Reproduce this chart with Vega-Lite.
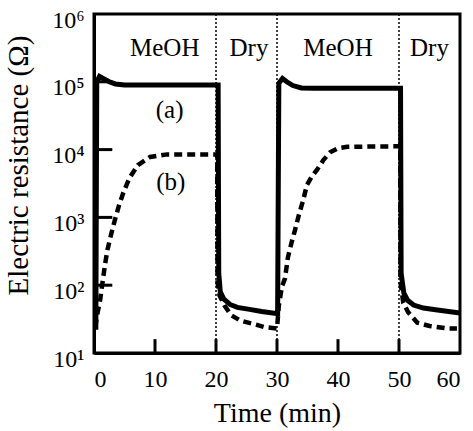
{
  "$schema": "https://vega.github.io/schema/vega-lite/v6.json",
  "width": 366,
  "height": 339,
  "autosize": "none",
  "padding": {"left": 94, "top": 14, "right": 13, "bottom": 78},
  "background": "white",
  "config": {
    "view": {"stroke": "black", "strokeWidth": 3},
    "axis": {
      "grid": false,
      "ticks": false,
      "domainColor": "black",
      "domainWidth": 3,
      "labelFont": "Liberation Serif",
      "labelFontSize": 24,
      "labelColor": "black",
      "titleFont": "Liberation Serif",
      "titleFontSize": 28,
      "titleFontWeight": "normal",
      "titleColor": "black"
    }
  },
  "datasets": {
    "curves": [
      {"s": "a", "i": 1, "t": 0.3, "r": 22},
      {"s": "a", "i": 2, "t": 0.45, "r": 100000},
      {"s": "a", "i": 3, "t": 0.9, "r": 120000},
      {"s": "a", "i": 4, "t": 1.5, "r": 112000},
      {"s": "a", "i": 5, "t": 2.5, "r": 100000},
      {"s": "a", "i": 6, "t": 3.5, "r": 93000},
      {"s": "a", "i": 7, "t": 5, "r": 90000},
      {"s": "a", "i": 8, "t": 20.35, "r": 90000},
      {"s": "a", "i": 9, "t": 20.45, "r": 150},
      {"s": "a", "i": 10, "t": 20.7, "r": 80},
      {"s": "a", "i": 11, "t": 21.3, "r": 62},
      {"s": "a", "i": 12, "t": 22.3, "r": 52},
      {"s": "a", "i": 13, "t": 23.5, "r": 47},
      {"s": "a", "i": 14, "t": 25.5, "r": 44},
      {"s": "a", "i": 15, "t": 27.5, "r": 41},
      {"s": "a", "i": 16, "t": 30.1, "r": 38},
      {"s": "a", "i": 17, "t": 30.3, "r": 95000},
      {"s": "a", "i": 18, "t": 30.9, "r": 112000},
      {"s": "a", "i": 19, "t": 31.6, "r": 100000},
      {"s": "a", "i": 20, "t": 32.6, "r": 88000},
      {"s": "a", "i": 21, "t": 34, "r": 81000},
      {"s": "a", "i": 22, "t": 36, "r": 80000},
      {"s": "a", "i": 23, "t": 50.25, "r": 80000},
      {"s": "a", "i": 24, "t": 50.35, "r": 150},
      {"s": "a", "i": 25, "t": 50.8, "r": 76},
      {"s": "a", "i": 26, "t": 51.4, "r": 60},
      {"s": "a", "i": 27, "t": 52.4, "r": 51},
      {"s": "a", "i": 28, "t": 54, "r": 46},
      {"s": "a", "i": 29, "t": 56.3, "r": 43},
      {"s": "a", "i": 30, "t": 60, "r": 39},
      {"s": "b", "i": 1, "t": 0.2, "r": 24},
      {"s": "b", "i": 2, "t": 0.6, "r": 40},
      {"s": "b", "i": 3, "t": 1.0, "r": 60},
      {"s": "b", "i": 4, "t": 1.4, "r": 110},
      {"s": "b", "i": 5, "t": 1.8, "r": 200},
      {"s": "b", "i": 6, "t": 2.2, "r": 330},
      {"s": "b", "i": 7, "t": 2.8, "r": 560},
      {"s": "b", "i": 8, "t": 3.4, "r": 900},
      {"s": "b", "i": 9, "t": 4.1, "r": 1500},
      {"s": "b", "i": 10, "t": 4.8, "r": 2300},
      {"s": "b", "i": 11, "t": 5.8, "r": 3800},
      {"s": "b", "i": 12, "t": 7.2, "r": 5900},
      {"s": "b", "i": 13, "t": 9.2, "r": 7800},
      {"s": "b", "i": 14, "t": 12, "r": 8500},
      {"s": "b", "i": 15, "t": 20.2, "r": 8500},
      {"s": "b", "i": 16, "t": 20.25, "r": 110},
      {"s": "b", "i": 17, "t": 20.6, "r": 70},
      {"s": "b", "i": 18, "t": 21.4, "r": 50},
      {"s": "b", "i": 19, "t": 22.5, "r": 36},
      {"s": "b", "i": 20, "t": 24, "r": 30},
      {"s": "b", "i": 21, "t": 26, "r": 27},
      {"s": "b", "i": 22, "t": 28, "r": 24},
      {"s": "b", "i": 23, "t": 30, "r": 23},
      {"s": "b", "i": 24, "t": 30.3, "r": 50},
      {"s": "b", "i": 25, "t": 30.8, "r": 95},
      {"s": "b", "i": 26, "t": 31.3, "r": 125},
      {"s": "b", "i": 27, "t": 31.8, "r": 260},
      {"s": "b", "i": 28, "t": 32.4, "r": 430},
      {"s": "b", "i": 29, "t": 32.95, "r": 650},
      {"s": "b", "i": 30, "t": 33.6, "r": 1100},
      {"s": "b", "i": 31, "t": 34.3, "r": 1800},
      {"s": "b", "i": 32, "t": 34.9, "r": 3000},
      {"s": "b", "i": 33, "t": 35.7, "r": 4000},
      {"s": "b", "i": 34, "t": 36.6, "r": 5100},
      {"s": "b", "i": 35, "t": 37.6, "r": 7000},
      {"s": "b", "i": 36, "t": 38.7, "r": 9100},
      {"s": "b", "i": 37, "t": 40, "r": 10500},
      {"s": "b", "i": 38, "t": 41.5, "r": 11000},
      {"s": "b", "i": 39, "t": 50.2, "r": 11200},
      {"s": "b", "i": 40, "t": 50.25, "r": 110},
      {"s": "b", "i": 41, "t": 50.7, "r": 55},
      {"s": "b", "i": 42, "t": 51.5, "r": 40},
      {"s": "b", "i": 43, "t": 53, "r": 28},
      {"s": "b", "i": 44, "t": 55, "r": 25},
      {"s": "b", "i": 45, "t": 58, "r": 23},
      {"s": "b", "i": 46, "t": 59.5, "r": 23}
    ],
    "phases": [{"t": 20}, {"t": 30}, {"t": 50}],
    "xticks": [{"t": 10, "r": 10, "r2": 16}, {"t": 20, "r": 10, "r2": 16}, {"t": 30, "r": 10, "r2": 16}, {"t": 40, "r": 10, "r2": 16}, {"t": 50, "r": 10, "r2": 16}],
    "yticks": [{"t": 0, "t2": 3, "r": 100}, {"t": 0, "t2": 3, "r": 1000}, {"t": 0, "t2": 3, "r": 10000}, {"t": 0, "t2": 3, "r": 100000}],
    "labels": [
      {"t": 11.6, "r": 320000, "label": "MeOH"},
      {"t": 25.4, "r": 320000, "label": "Dry"},
      {"t": 40, "r": 320000, "label": "MeOH"},
      {"t": 55, "r": 320000, "label": "Dry"},
      {"t": 12.4, "r": 38000, "label": "(a)"},
      {"t": 12.6, "r": 3300, "label": "(b)"}
    ]
  },
  "encoding": {
    "x": {
      "field": "t", "type": "quantitative",
      "scale": {"domain": [0, 60], "nice": false, "zero": false},
      "axis": {
        "values": [0, 10, 20, 30, 40, 50, 60],
        "labelPadding": 14,
        "title": "Time (min)",
        "titleBaseline": "alphabetic",
        "titleY": 68
      }
    },
    "y": {
      "field": "r", "type": "quantitative",
      "scale": {"type": "log", "domain": [10, 1000000], "nice": false},
      "axis": {
        "values": [10, 100, 1000, 10000, 100000, 1000000],
        "labelExpr": "'10' + ['⁰','¹','²','³','⁴','⁵','⁶'][round(log(datum.value)/LN10)]",
        "labelPadding": 10,
        "labelOffset": 6,
        "title": "Electric resistance (Ω)",
        "titleFontSize": 29,
        "titleBaseline": "alphabetic",
        "titleAnchor": "middle",
        "titleX": -67,
        "titleY": 151
      }
    }
  },
  "layer": [
    {
      "data": {"name": "phases"},
      "mark": {"type": "rule", "color": "black", "strokeWidth": 1.5, "strokeDash": [2, 2]},
      "encoding": {"y": null}
    },
    {
      "data": {"name": "curves"},
      "transform": [{"filter": "datum.s === 'b'"}],
      "mark": {"type": "line", "color": "black", "strokeWidth": 4.5, "strokeDash": [8, 5], "clip": true},
      "encoding": {"order": {"field": "i", "type": "quantitative"}}
    },
    {
      "data": {"name": "curves"},
      "transform": [{"filter": "datum.s === 'a'"}],
      "mark": {"type": "line", "color": "black", "strokeWidth": 5, "clip": true},
      "encoding": {"order": {"field": "i", "type": "quantitative"}}
    },
    {
      "data": {"name": "xticks"},
      "mark": {"type": "rule", "stroke": "black", "strokeWidth": 3},
      "encoding": {
        "x": {"field": "t", "type": "quantitative"},
        "y": {"field": "r", "type": "quantitative"},
        "y2": {"field": "r2"}
      }
    },
    {
      "data": {"name": "yticks"},
      "mark": {"type": "rule", "stroke": "black", "strokeWidth": 3},
      "encoding": {
        "x": {"field": "t", "type": "quantitative"},
        "x2": {"field": "t2"},
        "y": {"field": "r", "type": "quantitative"}
      }
    },
    {
      "data": {"name": "labels"},
      "mark": {"type": "text", "font": "Liberation Serif", "fontSize": 25, "color": "black", "align": "center", "baseline": "middle"},
      "encoding": {"text": {"field": "label"}}
    }
  ]
}
